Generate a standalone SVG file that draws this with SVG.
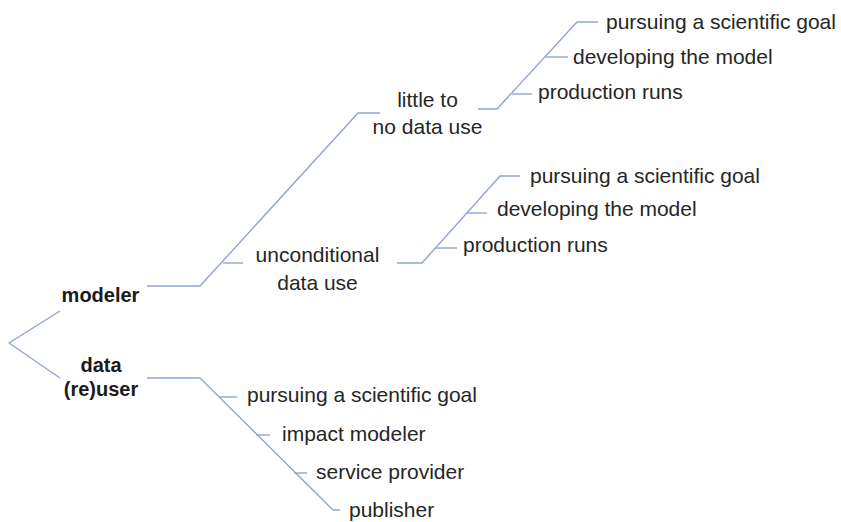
<svg xmlns="http://www.w3.org/2000/svg" width="841" height="522" viewBox="0 0 841 522">
<style>
.c{fill:none;stroke:#93a3d3;stroke-width:1.4;stroke-linejoin:round}
.t{font-family:"Liberation Sans",Arial,sans-serif;font-size:21px;fill:#262626}
.m{text-anchor:middle}
.b{font-family:"Liberation Sans",Arial,sans-serif;font-size:20px;font-weight:bold;fill:#1a1a1a;text-anchor:middle}
</style>
<rect width="841" height="522" fill="#ffffff"/>
<g id="connectors">
<polyline class="c" points="60,311 9,343 60,378"/>
<polyline class="c" points="147,286 200,286 358,113 380,113"/>
<line class="c" x1="223" y1="263" x2="243" y2="263"/>
<polyline class="c" points="478,109 497,109 577,22 598,22"/>
<line class="c" x1="546" y1="57" x2="568" y2="57"/>
<line class="c" x1="512" y1="94" x2="532" y2="94"/>
<polyline class="c" points="397,263 422,263 500,176 520,176"/>
<line class="c" x1="467" y1="213" x2="487" y2="213"/>
<line class="c" x1="436" y1="248" x2="457" y2="248"/>
<polyline class="c" points="147,378 200,378 333,510 340,510"/>
<line class="c" x1="219" y1="397" x2="237" y2="397"/>
<line class="c" x1="256" y1="435" x2="270" y2="435"/>
<line class="c" x1="294" y1="473" x2="307" y2="473"/>
</g>
<g id="modeler"><text class="b" x="100.5" y="302">modeler</text></g>
<g id="data-reuser"><text class="b" x="101" y="372">data</text><text class="b" x="101" y="396">(re)user</text></g>
<g id="little-data-use"><text class="t m" x="427.5" y="107">little to</text><text class="t m" x="427.5" y="134">no data use</text></g>
<g id="unconditional-data-use"><text class="t m" x="317.5" y="262">unconditional</text><text class="t m" x="317.5" y="290">data use</text></g>
<g id="little-goal"><text class="t" x="606" y="29">pursuing a scientific goal</text></g>
<g id="little-develop"><text class="t" x="573" y="64">developing the model</text></g>
<g id="little-production"><text class="t" x="538" y="99">production runs</text></g>
<g id="uncond-goal"><text class="t" x="530" y="183">pursuing a scientific goal</text></g>
<g id="uncond-develop"><text class="t" x="497" y="216">developing the model</text></g>
<g id="uncond-production"><text class="t" x="463" y="252">production runs</text></g>
<g id="reuser-goal"><text class="t" x="247" y="402">pursuing a scientific goal</text></g>
<g id="reuser-impact"><text class="t" x="282" y="441">impact modeler</text></g>
<g id="reuser-service"><text class="t" x="316" y="479">service provider</text></g>
<g id="reuser-publisher"><text class="t" x="349" y="517">publisher</text></g>
</svg>
